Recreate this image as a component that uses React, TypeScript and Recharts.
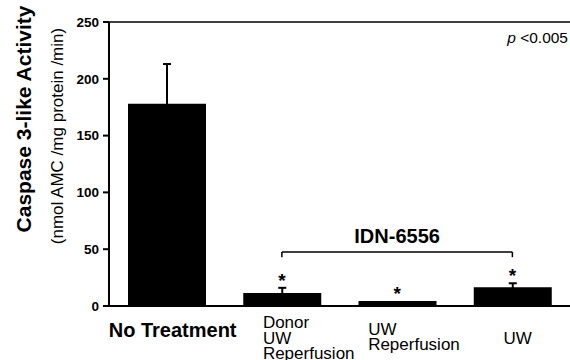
import React from 'react';
import {
  ComposedChart,
  Bar,
  XAxis,
  YAxis,
  ErrorBar,
  Scatter,
  ReferenceLine,
  Customized,
  Label,
} from 'recharts';

const categories = ['No Treatment', 'Donor UW Reperfusion', 'UW Reperfusion', 'UW'];
const categoryLines = [['No Treatment'], ['Donor', 'UW', 'Reperfusion'], ['UW', 'Reperfusion'], ['UW']];
const activity = [178, 11.5, 4.5, 16.5];
const errorUp = [35, 4.5, 0, 3.5];
const significant = [false, true, true, true];
const yTicks = [0, 50, 100, 150, 200, 250];
const bracketFrom = 'Donor UW Reperfusion';
const bracketTo = 'UW';
const bracketLevel = 47.5;
const bracketEnd = 43;
const bracketText = 'IDN-6556';
const yTitle = 'Caspase 3-like Activity';
const ySubtitle = '(nmol AMC /mg protein /min)';

const data = categories.map((name, i) => ({
  name,
  value: activity[i],
  err: errorUp[i],
  star: significant[i] ? activity[i] + errorUp[i] : null,
}));

const FONT = '"Liberation Sans", Arial, Helvetica, sans-serif';

const tickLayout = [
  { dx: 6, anchor: 'middle', base: [31], size: 20, weight: 'bold' },
  { dx: -19, anchor: 'start', base: [22, 38, 53], size: 17, weight: 'normal' },
  { dx: -29, anchor: 'start', base: [29, 44], size: 17, weight: 'normal' },
  { dx: -9, anchor: 'start', base: [38], size: 17, weight: 'normal' },
];

const XTick = (props: any) => {
  const { x, y, payload } = props;
  const idx = categories.indexOf(payload.value);
  const lay = tickLayout[idx];
  const lines = categoryLines[idx];
  return (
    <g>
      {lines.map((ln, j) => (
        <text
          key={j}
          x={x + lay.dx}
          y={y + lay.base[j]}
          textAnchor={lay.anchor}
          fontSize={lay.size}
          fontWeight={lay.weight}
          fontFamily={FONT}
          fill="#000"
        >
          {ln}
        </text>
      ))}
    </g>
  );
};

const StarShape = (props: any) => {
  const { cx, cy, payload } = props;
  if (payload == null || payload.star == null || !isFinite(cy)) return <g />;
  return (
    <text x={cx} y={cy - 1} textAnchor="middle" fontSize={19} fontWeight="bold" fontFamily={FONT} fill="#000">
      *
    </text>
  );
};

const Annotations = () => (
  <g>
    <text
      transform="translate(31,119) rotate(-90)"
      textAnchor="middle"
      fontSize={21}
      fontWeight="bold"
      fontFamily={FONT}
      fill="#000"
    >
      {yTitle}
    </text>
    <text
      transform="translate(63,136) rotate(-90)"
      textAnchor="middle"
      fontSize={17}
      fontFamily={FONT}
      fill="#000"
    >
      {ySubtitle}
    </text>
    <text x={568} y={43} textAnchor="end" fontSize={15.5} fontFamily={FONT} fill="#000">
      <tspan fontStyle="italic">p</tspan>
      <tspan> &lt;0.005</tspan>
    </text>
  </g>
);

export default function App() {
  return (
    <div style={{ position: 'absolute', left: 0, top: 0, width: 570, height: 360, background: '#fff' }}>
      <ComposedChart
        width={570}
        height={360}
        data={data}
        margin={{ top: 22, right: 0, bottom: 0, left: 0 }}
      >
        <XAxis
          dataKey="name"
          type="category"
          height={54}
          tickLine={false}
          tickSize={0}
          tickMargin={0}
          axisLine={{ stroke: '#000', strokeWidth: 2 }}
          tick={<XTick />}
          interval={0}
        />
        <YAxis
          type="number"
          domain={[0, 250]}
          ticks={yTicks}
          width={109}
          tickSize={6}
          tickMargin={4}
          axisLine={{ stroke: '#000', strokeWidth: 2 }}
          tickLine={{ stroke: '#000', strokeWidth: 2 }}
          tick={{ fontSize: 13.5, fontWeight: 'bold', fill: '#000', fontFamily: FONT }}
        />
        <ReferenceLine y={250} stroke="#000" strokeWidth={1.5} />
        <Bar dataKey="value" fill="#000" barSize={78} isAnimationActive={false}>
          <ErrorBar dataKey="err" width={4} stroke="#000" strokeWidth={2} direction="y" />
        </Bar>
        <Scatter dataKey="star" shape={<StarShape />} isAnimationActive={false} />
        <ReferenceLine
          segment={[
            { x: bracketFrom, y: bracketLevel },
            { x: bracketTo, y: bracketLevel },
          ]}
          stroke="#000"
          strokeWidth={1.5}
        >
          <Label
            value={bracketText}
            position="top"
            offset={9}
            fontSize={20}
            fontWeight="bold"
            fontFamily={FONT}
            fill="#000"
          />
        </ReferenceLine>
        <ReferenceLine
          segment={[
            { x: bracketFrom, y: bracketLevel },
            { x: bracketFrom, y: bracketEnd },
          ]}
          stroke="#000"
          strokeWidth={1.5}
        />
        <ReferenceLine
          segment={[
            { x: bracketTo, y: bracketLevel },
            { x: bracketTo, y: bracketEnd },
          ]}
          stroke="#000"
          strokeWidth={1.5}
        />
        <Customized component={Annotations} />
      </ComposedChart>
    </div>
  );
}
